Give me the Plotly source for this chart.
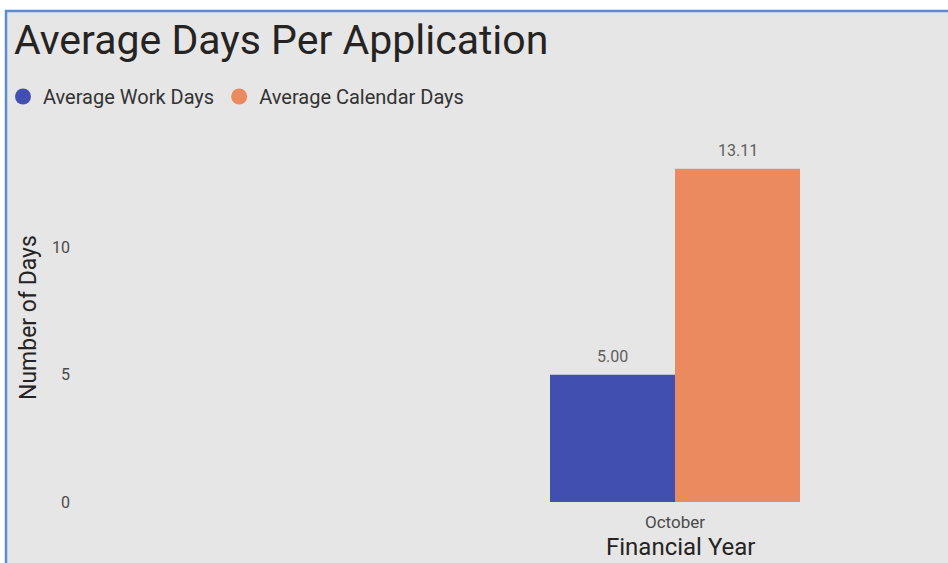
import plotly.graph_objects as go

categories = ["October"]
work_days = [5.00]
calendar_days = [13.11]
series_names = ["Average Work Days", "Average Calendar Days"]
colors = ["#4150B0", "#EB8A5F"]
y_ticks = [0, 5, 10]

W, H = 948, 563
L, R, T, B = 71, 5, 146, 61
pw = W - L - R
ph = H - T - B
FONT = "Roboto"

def px_x(p):
    return (p - L) / pw

def px_y(p):
    return (H - B - p) / ph

fig = go.Figure()
series = [(series_names[0], work_days, colors[0]),
          (series_names[1], calendar_days, colors[1])]
for name, vals, col in series:
    fig.add_trace(go.Bar(
        x=categories, y=vals, name=name, marker_color=col, showlegend=False,
        marker_line_width=0,
    ))
    fig.add_trace(go.Scatter(
        x=[None], y=[None], mode="markers", name=name,
        marker=dict(symbol="circle", size=16, color=col),
    ))

bargap = 0.2
unit = 250 / (1 - bargap)
center_px = 675
xa = -(center_px - L) / unit
xb = (W - R - center_px) / unit
bar_w = (1 - bargap) / len(series)

annotations = []
for i, (name, vals, col) in enumerate(series):
    for j, v in enumerate(vals):
        annotations.append(dict(
            x=j - (1 - bargap) / 2 + bar_w * (i + 0.5), y=v, xref="x", yref="y",
            text=f"{v:.2f}", showarrow=False, yanchor="bottom", yshift=7,
            font=dict(family=FONT, size=16, color="#605E5C")))
annotations.append(dict(
    x=0, y=px_y(547), xref="x", yref="paper", text="Financial Year",
    showarrow=False, yanchor="middle", xanchor="center", xshift=5,
    font=dict(family=FONT, size=24, color="#252423")))
annotations.append(dict(
    x=px_x(28), y=px_y(318), xref="paper", yref="paper", text="Number of Days",
    showarrow=False, textangle=-90, xanchor="center", yanchor="middle",
    font=dict(family=FONT, size=23, color="#252423")))

fig.update_layout(
    width=W, height=H,
    margin=dict(l=L, r=R, t=T, b=B, autoexpand=False),
    paper_bgcolor="#E6E6E6", plot_bgcolor="#E6E6E6",
    barmode="group", bargap=bargap, bargroupgap=0,
    title=dict(text="Average Days Per Application", x=14 / W, xref="container",
               xanchor="left", y=1 - 40 / H, yref="container", yanchor="middle",
               font=dict(family=FONT, size=41, color="#252423")),
    legend=dict(orientation="h", xref="container", yref="container",
                x=3 / W, xanchor="left", y=1 - 77 / H, yanchor="top",
                font=dict(family=FONT, size=20, color="#333333"),
                itemsizing="trace", itemwidth=30, tracegroupgap=0,
                bgcolor="rgba(0,0,0,0)"),
    xaxis=dict(type="category", range=[xa, xb], showgrid=False, zeroline=False,
               showline=False, ticks="", ticklabelstandoff=8, automargin=False,
               tickfont=dict(family=FONT, size=17, color="#4A4A4A")),
    yaxis=dict(range=[0, 14], tickvals=y_ticks, showgrid=False, zeroline=False,
               showline=False, ticks="", automargin=False,
               tickfont=dict(family=FONT, size=16, color="#4A4A4A")),
    annotations=annotations,
    shapes=[
        dict(type="rect", xref="paper", yref="paper", x0=px_x(-5), x1=px_x(W + 5),
             y0=px_y(10), y1=px_y(-5), fillcolor="white", line_width=0, layer="above"),
        dict(type="rect", xref="paper", yref="paper", x0=px_x(-5), x1=px_x(5),
             y0=px_y(H + 5), y1=px_y(-5), fillcolor="white", line_width=0, layer="above"),
        dict(type="line", xref="paper", yref="paper", x0=px_x(5), x1=px_x(W + 5),
             y0=px_y(11), y1=px_y(11), line=dict(color="#5B8BD0", width=2.5), layer="above"),
        dict(type="line", xref="paper", yref="paper", x0=px_x(6), x1=px_x(6),
             y0=px_y(10), y1=px_y(H + 5), line=dict(color="#5B8BD0", width=2.5), layer="above"),
    ],
)

fig.write_html("out.html", config={"displayModeBar": False},
               post_script="document.body.style.margin='0';")
